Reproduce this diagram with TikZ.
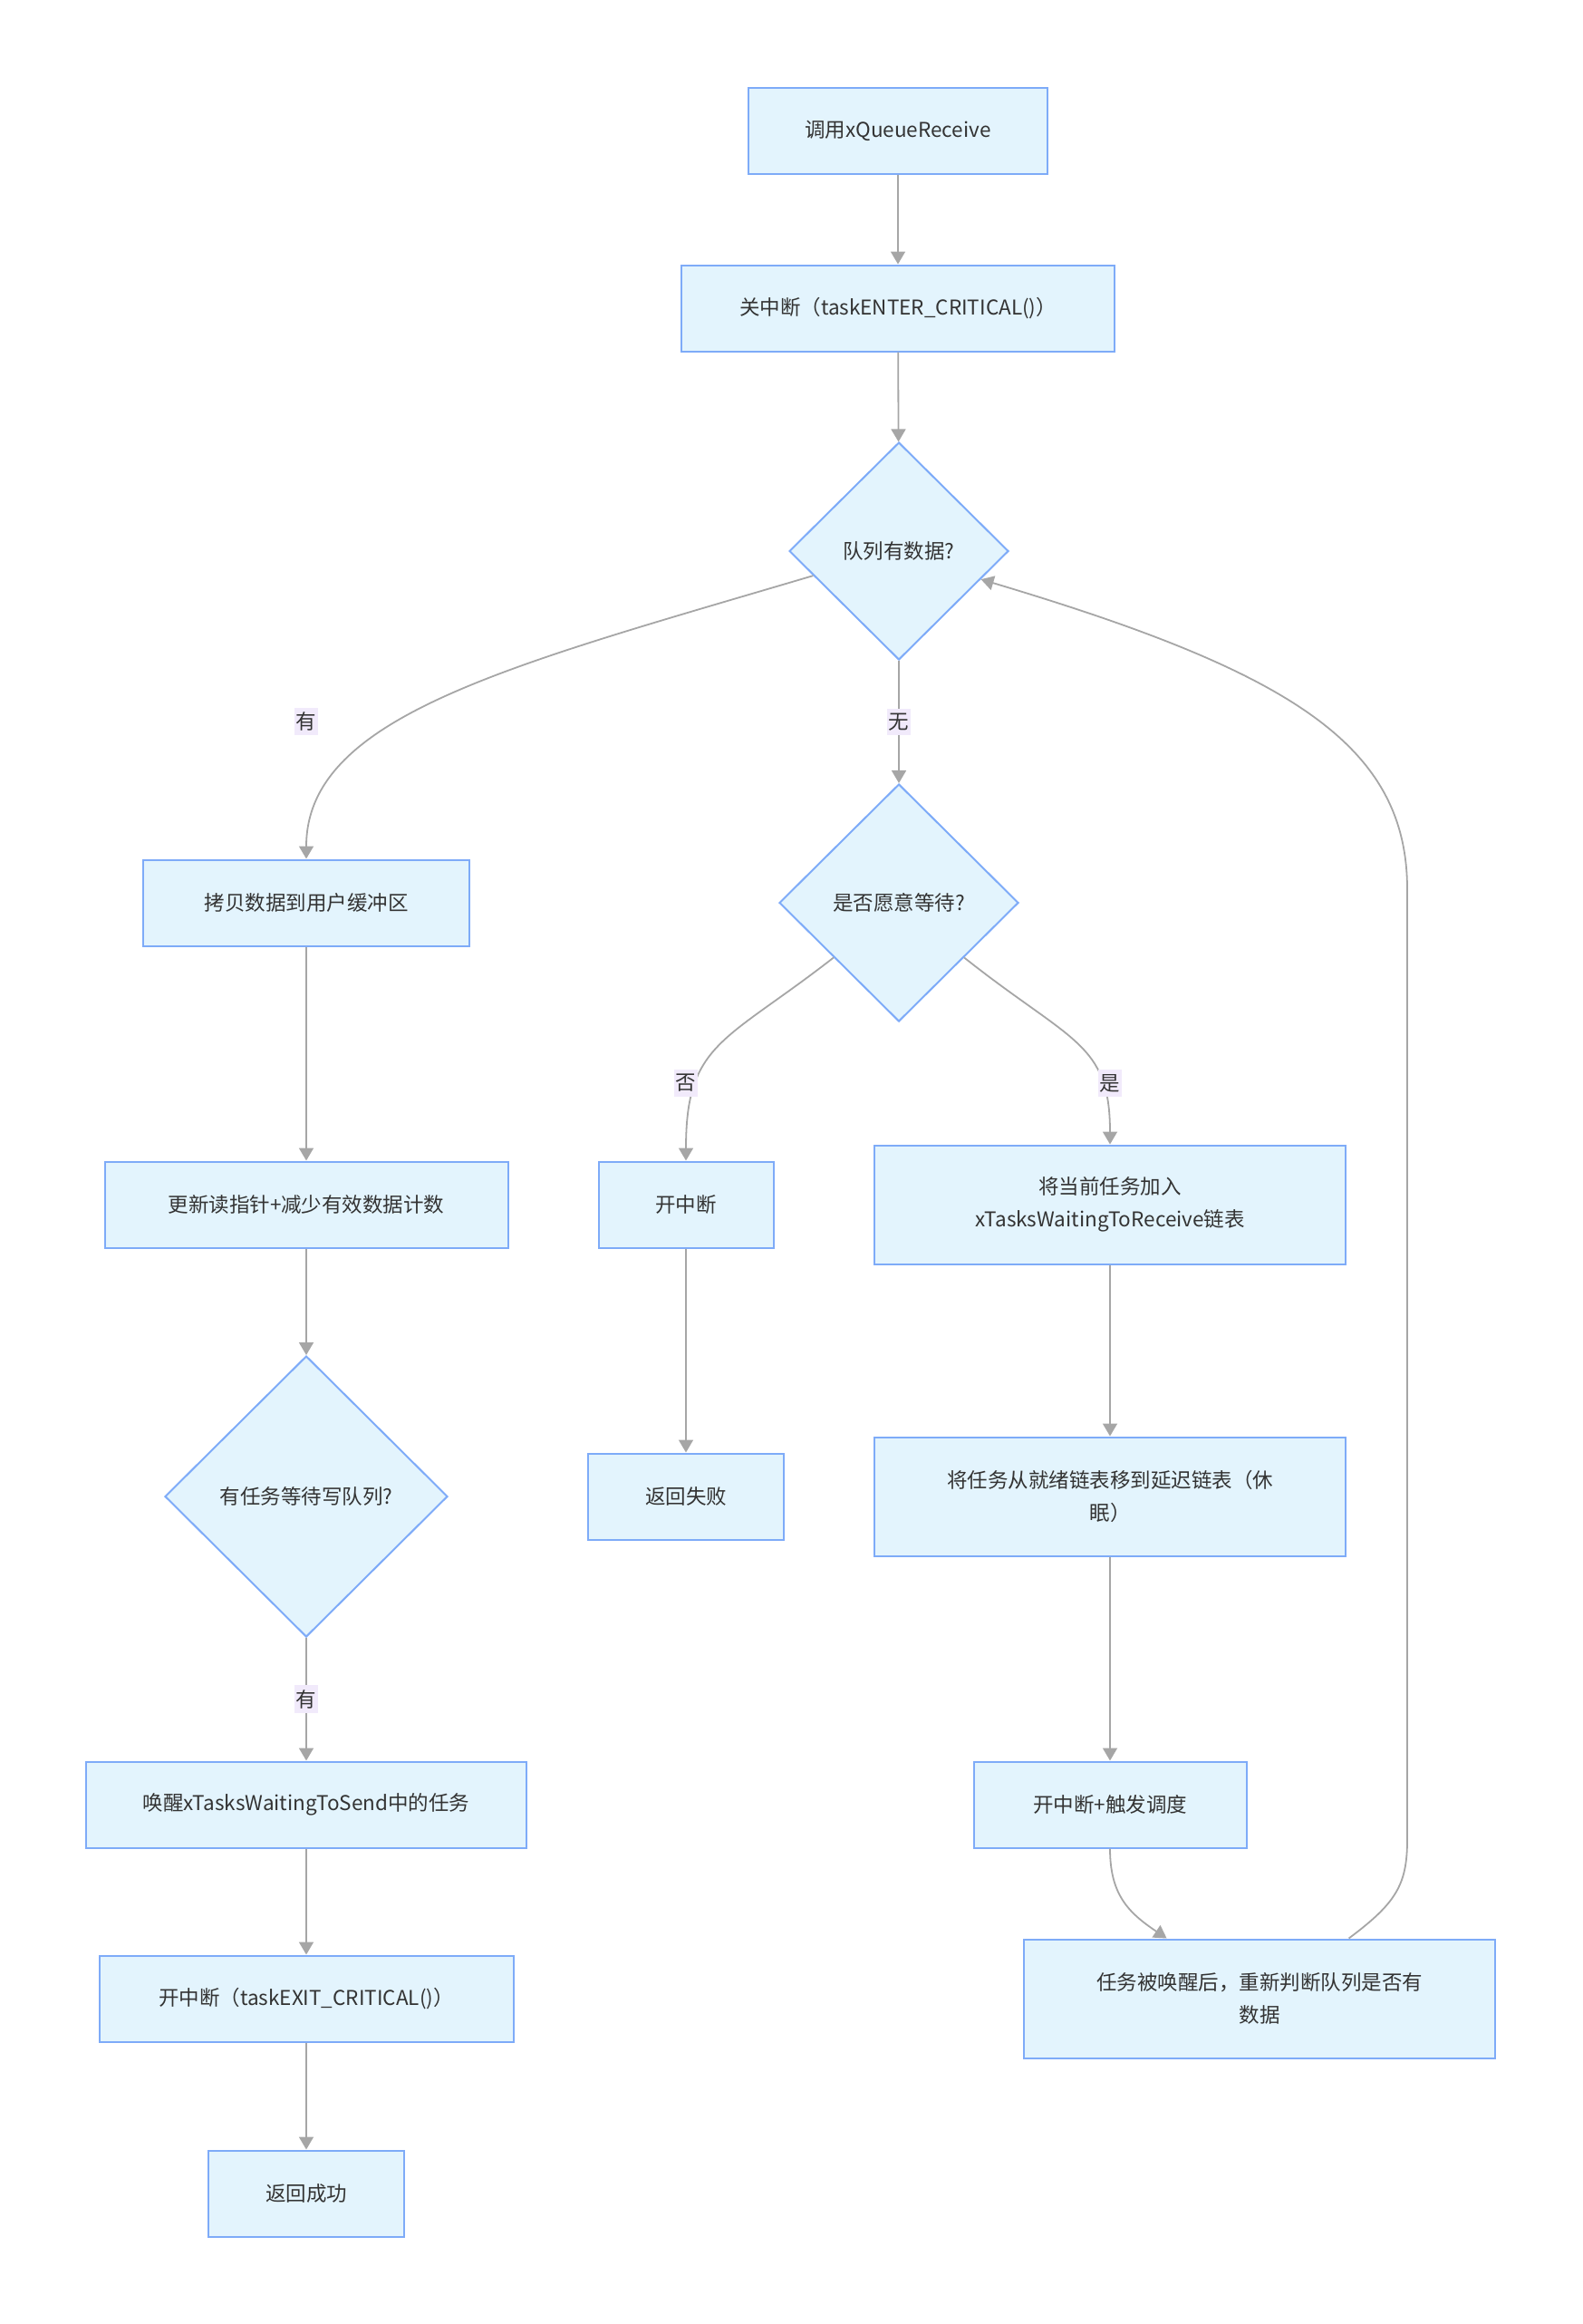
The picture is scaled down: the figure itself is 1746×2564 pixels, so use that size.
\documentclass[tikz,border=0pt]{standalone}
\usepackage{fontspec}
\setmainfont{Noto Sans CJK SC}
\usepackage{xcolor}
\usepackage{tikz}
\usetikzlibrary{positioning,shapes.geometric,arrows.meta}
\definecolor{boxfill}{HTML}{E3F4FD}
\definecolor{boxline}{HTML}{7EABF8}
\definecolor{edgegray}{HTML}{A6A6A6}
\definecolor{lblfill}{HTML}{F1EAFB}
\definecolor{txtgray}{HTML}{333333}

\begin{document}
\begin{tikzpicture}[
  x=1pt, y=-1pt,
  font=\fontsize{22.5}{36}\selectfont, text=txtgray,
  proc/.style={draw=boxline, fill=boxfill, line width=2pt, align=center, minimum height=95pt, inner sep=0pt},
  dec/.style={diamond, draw=boxline, fill=boxfill, line width=2pt, align=center, inner sep=0pt},
  lbl/.style={fill=lblfill, text=txtgray, inner xsep=2pt, inner ysep=5pt},
  arr/.style={-{Triangle[length=14pt, width=16pt]}, edgegray, line width=1.8pt},
]
\useasboundingbox (0,0) rectangle (1746,2564);
\node[proc, minimum width=330pt] (call) at (991,144) {调用xQueueReceive};
\node[proc, minimum width=478pt] (lock) at (991,340) {关中断（taskENTER\_CRITICAL()）};
\node[dec, minimum width=242pt, minimum height=240pt] (hasdata) at (992,608) {队列有数据?};
\node[proc, minimum width=360pt] (copy) at (338,996) {拷贝数据到用户缓冲区};
\node[dec, minimum width=264pt, minimum height=262pt] (wait) at (992,996) {是否愿意等待?};
\node[proc, minimum width=445pt] (upd) at (338,1329) {更新读指针+减少有效数据计数};
\node[proc, minimum width=193pt] (unlockF) at (757,1329) {开中断};
\node[proc, minimum width=520pt, minimum height=131pt] (enq) at (1225,1329) {将当前任务加入\\xTasksWaitingToReceive链表};
\node[dec, minimum width=312pt, minimum height=310pt] (sendwait) at (338,1651) {有任务等待写队列?};
\node[proc, minimum width=216pt] (fail) at (757,1651) {返回失败};
\node[proc, minimum width=520pt, minimum height=131pt] (delay) at (1225,1651) {将任务从就绪链表移到延迟链表（休\\眠）};
\node[proc, minimum width=486pt] (wake) at (338,1991) {唤醒xTasksWaitingToSend中的任务};
\node[proc, minimum width=301pt] (yield) at (1225,1991) {开中断+触发调度};
\node[proc, minimum width=520pt, minimum height=131pt] (recheck) at (1390,2205) {任务被唤醒后，重新判断队列是否有\\数据};
\node[proc, minimum width=457pt] (unlock) at (338,2205) {开中断（taskEXIT\_CRITICAL()）};
\node[proc, minimum width=216pt] (ok) at (338,2420) {返回成功};
% main column
\draw[arr] (call) -- (lock);
\draw[arr] (lock) -- (hasdata);
\draw[arr] (hasdata.196) .. controls (560,735) and (338,790) .. (copy.north);
\node[lbl] (yesA) at (338,796) {有};
\draw[arr] (hasdata) -- node[lbl] {无} (wait);
\draw[arr] (wait.220) .. controls (800,1150) and (757,1150) .. (unlockF.north);
\node[lbl] (noB) at (757,1195) {否};
\draw[arr] (wait.320) .. controls (1182,1150) and (1225,1150) .. (enq.north);
\node[lbl] (yesB) at (1225,1195) {是};
% left branch
\draw[arr] (copy) -- (upd);
\draw[arr] (upd) -- (sendwait);
\draw[arr] (sendwait) -- node[lbl] {有} (wake);
\draw[arr] (wake) -- (unlock);
\draw[arr] (unlock) -- (ok);
% right branches
\draw[arr] (unlockF) -- (fail);
\draw[arr] (enq) -- (delay);
\draw[arr] (delay) -- (yield);
\draw[arr] (yield.south) .. controls (1225,2090) and (1245,2110) .. (recheck.147);
\draw[arr] (recheck.34) .. controls (1540,2100) and (1553,2080) .. (1553,2030)
  -- (1553,981) .. controls (1553,820) and (1420,740) .. (hasdata.-19);
\end{tikzpicture}
\end{document}
